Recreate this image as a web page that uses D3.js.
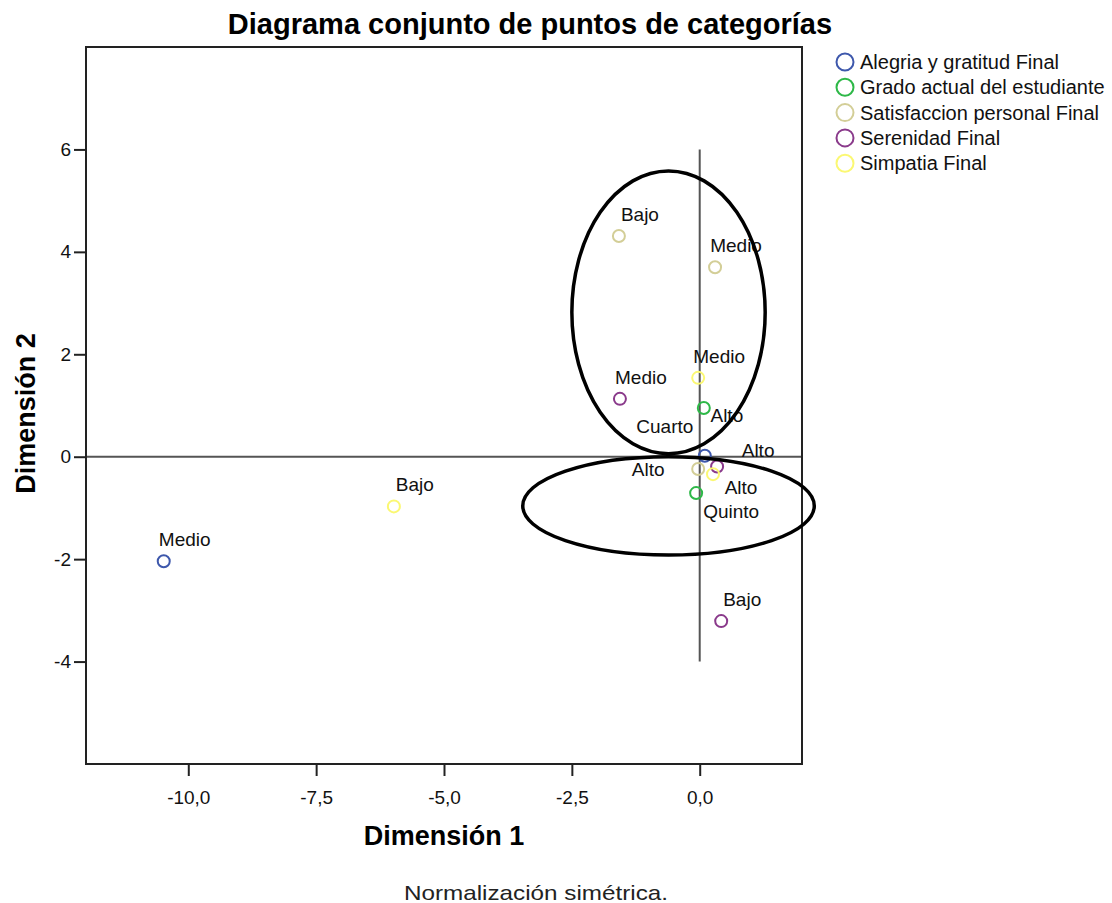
<!DOCTYPE html>
<html>
<head>
<meta charset="utf-8">
<script src="https://cdn.jsdelivr.net/npm/d3@7"></script>
<style>
  body { margin: 0; background: #fff; }
  svg text { font-family: "Liberation Sans", Arial, sans-serif; }
</style>
</head>
<body>
<svg id="chart" width="1112" height="903"></svg>
<script>
// series (legend order) and SPSS default colours
var seriesNames = [
  "Alegria y gratitud Final",
  "Grado actual del estudiante",
  "Satisfaccion personal Final",
  "Serenidad Final",
  "Simpatia Final"
];
var seriesColors = ["#3e58ac", "#2eb848", "#d3ce97", "#8a3a8b", "#fbf873"];

// category points, one small set of arrays per series
var alegriaCats = ["Medio", "Alto"];
var alegriaDim1 = [-10.48, 0.10];
var alegriaDim2 = [-2.04, 0.02];

var gradoCats = ["Cuarto", "Quinto"];
var gradoDim1 = [0.08, -0.07];
var gradoDim2 = [0.95, -0.71];

var satisfCats = ["Bajo", "Medio", "Alto"];
var satisfDim1 = [-1.58, 0.30, -0.03];
var satisfDim2 = [4.31, 3.70, -0.24];

var serenCats = ["Medio", "Alto", "Bajo"];
var serenDim1 = [-1.56, 0.34, 0.42];
var serenDim2 = [1.13, -0.19, -3.21];

var simpCats = ["Bajo", "Medio", "Alto"];
var simpDim1 = [-5.98, -0.03, 0.26];
var simpDim2 = [-0.97, 1.54, -0.34];

// axis ticks
var xTicks = [-10, -7.5, -5, -2.5, 0];
var yTicks = [-4, -2, 0, 2, 4, 6];

// hand-drawn ellipses (data units): cx, cy, rx, ry
var ellipseCx = [-0.61, -0.61];
var ellipseCy = [2.82, -0.96];
var ellipseRx = [1.89, 2.85];
var ellipseRy = [2.76, 0.96];

var groups = [
  [alegriaCats, alegriaDim1, alegriaDim2],
  [gradoCats, gradoDim1, gradoDim2],
  [satisfCats, satisfDim1, satisfDim2],
  [serenCats, serenDim1, serenDim2],
  [simpCats, simpDim1, simpDim2]
];

// label placement nudges (px) where SPSS moved labels out of the crowd
var defaultNudge = [21, -15];
var nudges = {
  "1-0": [-39, 25],   // Cuarto
  "1-1": [35, 25],    // Quinto
  "0-1": [22, -34],   // Alegria Alto
  "3-1": [41, -9],    // Serenidad Alto
  "2-2": [-50, 7],    // Satisfaccion Alto
  "4-2": [28, 20]     // Simpatia Alto
};

var points = [];
groups.forEach(function(g, gi) {
  g[0].forEach(function(cat, i) {
    points.push({ group: gi, key: gi + "-" + i, label: cat, x: g[1][i], y: g[2][i] });
  });
});

var svg = d3.select("#chart");
var margin = { left: 86, right: 310, top: 47, bottom: 139 };
var width = 1112 - margin.left - margin.right;
var height = 903 - margin.top - margin.bottom;

var x = d3.scaleLinear().domain([-12, 2]).range([margin.left, margin.left + width]);
var y = d3.scaleLinear().domain([-6, 8]).range([margin.top + height, margin.top]);

// title
svg.append("text")
  .attr("x", 530)
  .attr("y", 34)
  .attr("text-anchor", "middle")
  .attr("font-size", 29)
  .attr("font-weight", "bold")
  .text("Diagrama conjunto de puntos de categorías");

// reference lines through origin
svg.append("line")
  .attr("x1", x(0)).attr("x2", x(0))
  .attr("y1", y(6)).attr("y2", y(-4))
  .attr("stroke", "#555").attr("stroke-width", 2);
svg.append("line")
  .attr("x1", x(-12)).attr("x2", x(2))
  .attr("y1", y(0)).attr("y2", y(0))
  .attr("stroke", "#555").attr("stroke-width", 2);

// frame
svg.append("rect")
  .attr("x", margin.left).attr("y", margin.top)
  .attr("width", width).attr("height", height)
  .attr("fill", "none")
  .attr("stroke", "#222").attr("stroke-width", 2);

// axes (plain hyphen minus and decimal comma, as in the SPSS output)
var fmtX = function(d) { return d3.format(".1f")(d).replace("\u2212", "-").replace(".", ","); };
var fmtY = function(d) { return String(d); };
var xAxis = svg.append("g")
  .attr("transform", "translate(0," + (margin.top + height) + ")")
  .call(d3.axisBottom(x).tickValues(xTicks).tickSize(12).tickPadding(15).tickFormat(fmtX));
var yAxis = svg.append("g")
  .attr("transform", "translate(" + margin.left + ",0)")
  .call(d3.axisLeft(y).tickValues(yTicks).tickSize(12).tickPadding(3).tickFormat(fmtY));
[xAxis, yAxis].forEach(function(a) {
  a.select(".domain").remove();
  a.selectAll(".tick line").attr("stroke", "#222").attr("stroke-width", 2);
  a.selectAll(".tick text")
    .attr("font-size", 19)
    .attr("fill", "#111")
    .style("font-family", "Liberation Sans, Arial, sans-serif");
});

// axis titles
svg.append("text")
  .attr("x", margin.left + width / 2)
  .attr("y", 845)
  .attr("text-anchor", "middle")
  .attr("font-size", 27)
  .attr("font-weight", "bold")
  .text("Dimensión 1");
svg.append("text")
  .attr("transform", "translate(35," + (margin.top + height / 2 + 8) + ") rotate(-90)")
  .attr("text-anchor", "middle")
  .attr("font-size", 27)
  .attr("font-weight", "bold")
  .text("Dimensión 2");

// footnote
svg.append("text")
  .attr("x", 404)
  .attr("y", 900)
  .attr("font-size", 21)
  .attr("fill", "#222")
  .attr("textLength", 264)
  .attr("lengthAdjust", "spacingAndGlyphs")
  .text("Normalización simétrica.");

// points
svg.append("g")
  .selectAll("circle")
  .data(points)
  .enter()
  .append("circle")
  .attr("cx", function(d) { return x(d.x); })
  .attr("cy", function(d) { return y(d.y); })
  .attr("r", 6)
  .attr("fill", "none")
  .attr("stroke", function(d) { return seriesColors[d.group]; })
  .attr("stroke-width", 2);

// point labels
svg.append("g")
  .selectAll("text")
  .data(points)
  .enter()
  .append("text")
  .attr("x", function(d) { return x(d.x) + (nudges[d.key] || defaultNudge)[0]; })
  .attr("y", function(d) { return y(d.y) + (nudges[d.key] || defaultNudge)[1]; })
  .attr("text-anchor", "middle")
  .attr("font-size", 19)
  .attr("fill", "#111")
  .text(function(d) { return d.label; });

// annotation ellipses
svg.append("g")
  .selectAll("ellipse")
  .data(ellipseCx)
  .enter()
  .append("ellipse")
  .attr("cx", function(d) { return x(d); })
  .attr("cy", function(d, i) { return y(ellipseCy[i]); })
  .attr("rx", function(d, i) { return x(ellipseRx[i]) - x(0); })
  .attr("ry", function(d, i) { return y(0) - y(ellipseRy[i]); })
  .attr("fill", "none")
  .attr("stroke", "#000")
  .attr("stroke-width", 3.5);

// legend
var legend = svg.append("g")
  .selectAll("g")
  .data(seriesNames)
  .enter()
  .append("g")
  .attr("transform", function(d, i) { return "translate(845," + (62 + i * 25.3) + ")"; });
legend.append("circle")
  .attr("r", 8.5)
  .attr("fill", "none")
  .attr("stroke", function(d, i) { return seriesColors[i]; })
  .attr("stroke-width", 2);
legend.append("text")
  .attr("x", 15)
  .attr("y", 7)
  .attr("font-size", 20)
  .attr("fill", "#111")
  .text(function(d) { return d; });
</script>
</body>
</html>
